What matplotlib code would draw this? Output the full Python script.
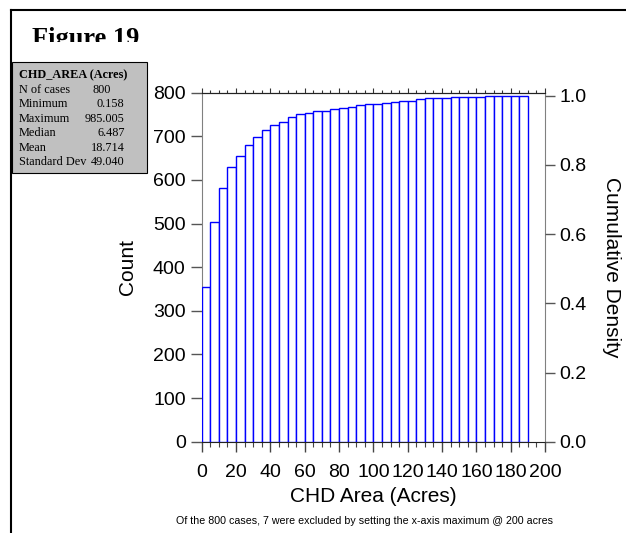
import matplotlib
matplotlib.use('Agg')
import matplotlib.pyplot as plt
from matplotlib.patches import Rectangle
from matplotlib.lines import Line2D
from matplotlib.transforms import Bbox
from matplotlib.ticker import MultipleLocator, FormatStrFormatter

W, H = 626, 533

# cumulative histogram, bins of 5 acres
bin_start = [0, 5, 10, 15, 20, 25, 30, 35, 40, 45, 50, 55, 60, 65, 70, 75, 80, 85, 90,
             95, 100, 105, 110, 115, 120, 125, 130, 135, 140, 145, 150, 155, 160, 165,
             170, 175, 180, 185]
cum_count = [354, 503, 582, 629, 655, 679, 698, 714, 725, 733, 745, 751, 753, 757, 759,
             763, 766, 768, 771, 773, 775, 776, 778, 781, 782, 786, 787, 787, 788, 789,
             790, 791, 791, 792, 792, 792, 792, 793]
n_shown = 793

stat_names = ['N of cases', 'Minimum', 'Maximum', 'Median', 'Mean', 'Standard Dev']
stat_values = ['800', '0.158', '985.005', '6.487', '18.714', '49.040']

x_ticks = [0, 20, 40, 60, 80, 100, 120, 140, 160, 180, 200]
y_ticks = [0, 100, 200, 300, 400, 500, 600, 700, 800]
dens_ticks = [0.0, 0.2, 0.4, 0.6, 0.8, 1.0]


def fx(x):
    return x / W


def fy(y):
    return 1 - y / H


plt.rcParams['font.family'] = ['Liberation Sans', 'DejaVu Sans']

fig = plt.figure(figsize=(W / 100, H / 100), dpi=100)
ax = fig.add_axes([fx(201.7), fy(441.7), fx(545) - fx(201.7), fy(92.7) - fy(441.7)])

ax.bar(bin_start, cum_count, width=5, align='edge', facecolor='white',
       edgecolor='#0000ff', linewidth=1.0, zorder=3)
ax.set_xlim(0, 200)
ax.set_ylim(0, 800)

grey = '#808080'
ax.spines['left'].set_color(grey)
ax.spines['right'].set_color(grey)
ax.spines['top'].set_color('#222222')
ax.spines['bottom'].set_color('#222222')

ax.set_xticks(x_ticks)
ax.xaxis.set_minor_locator(MultipleLocator(5))
ax.set_yticks(y_ticks)
ax.tick_params(axis='x', which='major', direction='out', length=7, width=1,
               color='#444444', labelsize=14, pad=9)
ax.tick_params(axis='x', which='minor', direction='out', length=3.6, width=0.8,
               color='#444444')
ax.tick_params(axis='y', which='major', direction='out', length=8, width=1,
               color='#555555', labelsize=14, pad=3.5)

top = ax.secondary_xaxis('top')
top.set_xticks(x_ticks)
top.xaxis.set_minor_locator(MultipleLocator(5))
top.tick_params(which='major', direction='out', length=3.8, width=0.8,
                color='#333333', labeltop=False)
top.tick_params(which='minor', direction='out', length=2.2, width=0.8,
                color='#333333')
top.spines['top'].set_color('#222222')

ax2 = ax.twinx()
ax2.set_ylim(0, 800 / n_shown)
ax2.set_yticks(dens_ticks)
ax2.yaxis.set_major_formatter(FormatStrFormatter('%.1f'))
ax2.tick_params(axis='y', direction='out', length=7.5, width=1, color='#555555',
                labelsize=14, pad=3)
for s in ax2.spines.values():
    s.set_visible(False)

fig.text(fx(128), fy(267), 'Count', rotation=90, ha='center', va='center', fontsize=15)
fig.text(fx(612), fy(267), 'Cumulative Density', rotation=-90, ha='center', va='center',
         fontsize=15)
fig.text(fx(373), fy(497), 'CHD Area (Acres)', ha='center', va='center', fontsize=15)
fig.text(fx(364), fy(521.5), 'Of the 800 cases, 7 were excluded by setting the x-axis maximum @ 200 acres',
         ha='center', va='center', fontsize=7.7)

# title, cut off at the bottom like the original
title = fig.text(fx(32), fy(44.5), 'Figure 19', ha='left', va='baseline', fontsize=19,
                 fontweight='bold', family=['Liberation Serif', 'DejaVu Serif'])
title.set_clip_box(Bbox.from_extents(0, H - 42, W, H))
title.set_clip_on(True)

# frame lines
fig.add_artist(Line2D([fx(11), 1], [fy(9.5), fy(9.5)], color='black', lw=1.5))
fig.add_artist(Line2D([fx(11), fx(11)], [fy(9.5), 0], color='black', lw=1.5))

# summary box
fig.add_artist(Rectangle((fx(12), fy(172.7)), fx(147.3) - fx(12), fy(62.3) - fy(172.7),
                         facecolor='#c0c0c0', edgecolor='black', lw=0.8))
serif = ['Liberation Serif', 'DejaVu Serif']
fig.text(fx(19), fy(78.3), 'CHD_AREA (Acres)', fontsize=8.8, fontweight='bold',
         family=serif, va='baseline')
for i, (nm, val) in enumerate(zip(stat_names, stat_values)):
    yb = 92.7 + i * 14.52
    fig.text(fx(19), fy(yb), nm, fontsize=8.8, family=serif, va='baseline')
    xr = 111 if '.' not in val else 124.5
    fig.text(fx(xr), fy(yb), val, fontsize=8.8, family=serif, va='baseline', ha='right')

fig.savefig('out.png', dpi=100)
